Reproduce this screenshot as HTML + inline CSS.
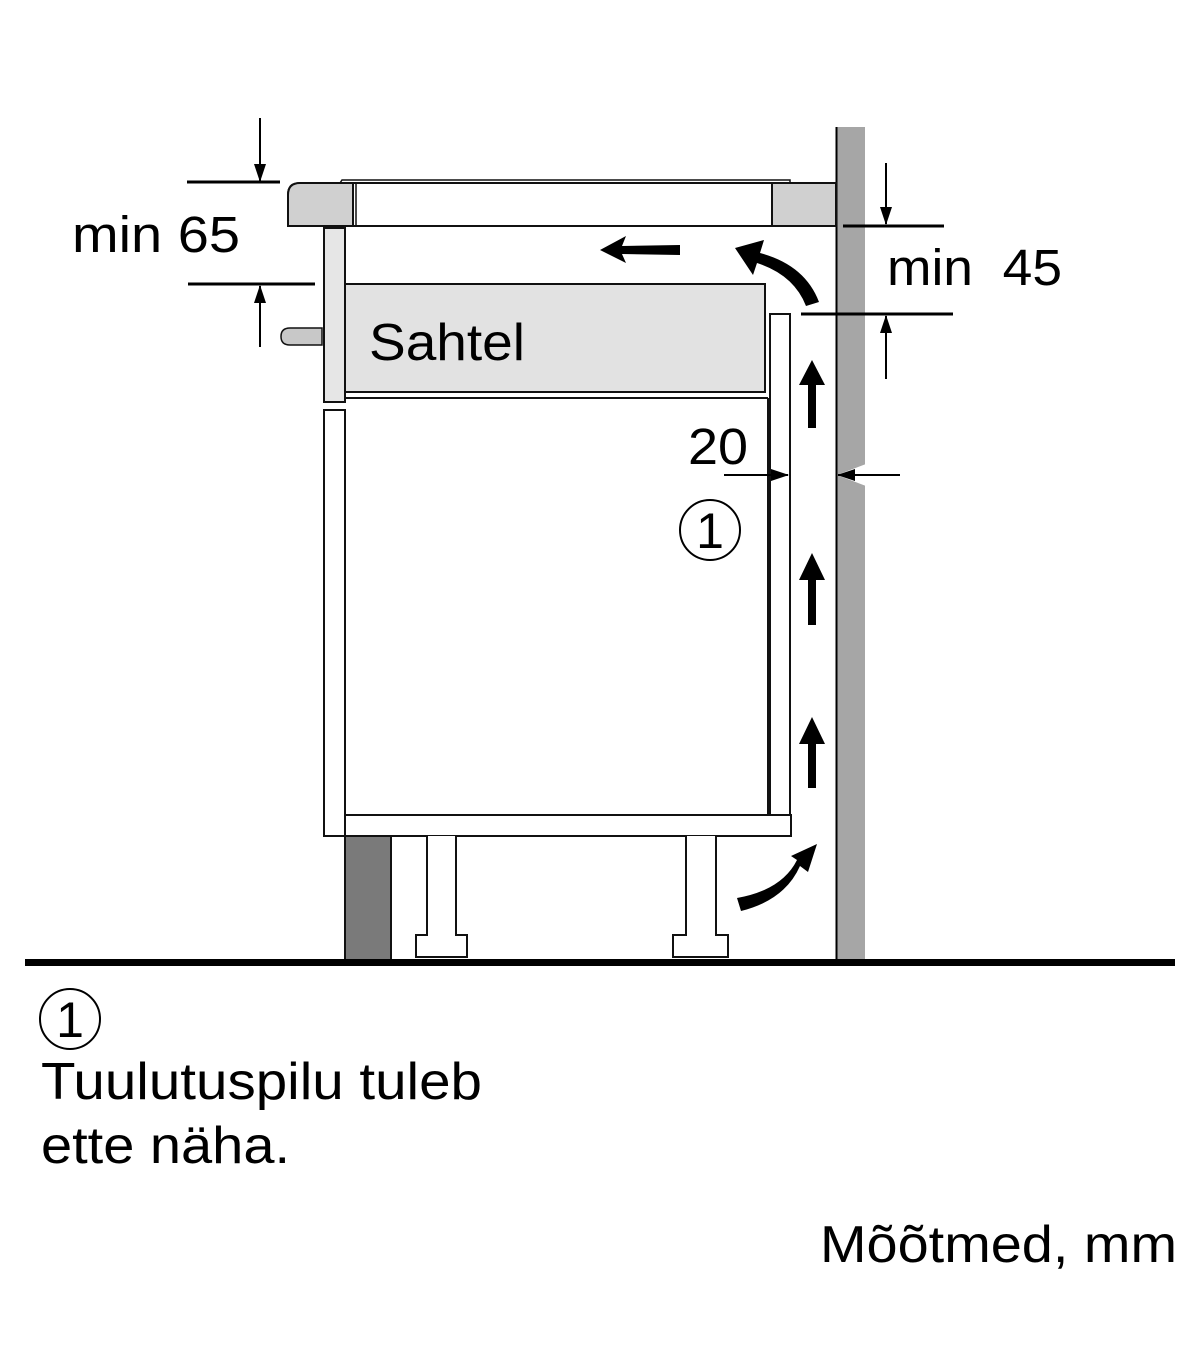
<!DOCTYPE html>
<html><head><meta charset="utf-8"><style>html,body{margin:0;padding:0;background:#fff}svg{display:block}</style></head>
<body>
<svg width="1200" height="1372" viewBox="0 0 1200 1372" xmlns="http://www.w3.org/2000/svg" font-family="Liberation Sans, Arial, sans-serif">
<defs>
<marker id="ah" markerWidth="18" markerHeight="14" refX="17" refY="6" orient="auto" markerUnits="userSpaceOnUse">
<path d="M0,0 L18,6 L0,12 z" fill="#000"/></marker>
</defs>
<!-- wall -->
<rect x="836" y="127" width="29" height="834" fill="#a6a6a6"/>
<line x1="836.5" y1="127" x2="836.5" y2="961" stroke="#000" stroke-width="2"/>
<!-- countertop -->
<path d="M300,183 L836,183 L836,226 L288,226 L288,195 Q288,183 300,183 z" fill="#fff" stroke="#111" stroke-width="2"/>
<path d="M300,183 L353,183 L353,226 L288,226 L288,195 Q288,183 300,183 z" fill="#d0d0d0" stroke="#111" stroke-width="2"/>
<rect x="772" y="183" width="64" height="43" fill="#d0d0d0" stroke="#111" stroke-width="2"/>
<line x1="356" y1="183" x2="356" y2="226" stroke="#111" stroke-width="1.5"/>
<path d="M340,183 L342,180 L790,180 L790,183" fill="none" stroke="#111" stroke-width="1.5"/>
<!-- cabinet front panel top -->
<rect x="324" y="228" width="21" height="174" fill="#e6e6e6" stroke="#111" stroke-width="2"/>
<rect x="324" y="410" width="21" height="426" fill="#fff" stroke="#111" stroke-width="2"/>
<!-- knob -->
<path d="M322,328 L290,328 Q281,328 281,336.5 Q281,345 290,345 L322,345 z" fill="#c8c8c8" stroke="#111" stroke-width="1.5"/>
<!-- drawer -->
<rect x="345" y="284" width="420" height="108" fill="#e2e2e2" stroke="#111" stroke-width="2"/>
<line x1="345" y1="398" x2="768" y2="398" stroke="#111" stroke-width="2"/>
<line x1="768" y1="398" x2="768" y2="815" stroke="#111" stroke-width="2"/>
<rect x="770" y="314" width="20" height="501" fill="#fff" stroke="#111" stroke-width="2"/>
<!-- bottom shelf -->
<rect x="345" y="815" width="446" height="21" fill="#fff" stroke="#111" stroke-width="2"/>
<!-- plinth -->
<rect x="345" y="836" width="46" height="124" fill="#7a7a7a" stroke="#111" stroke-width="2"/>
<!-- legs -->
<path d="M427,836 L427,935 L416,935 L416,957 L467,957 L467,935 L456,935 L456,836" fill="#fff" stroke="#111" stroke-width="2"/>
<path d="M686,836 L686,935 L673,935 L673,957 L728,957 L728,935 L716,935 L716,836" fill="#fff" stroke="#111" stroke-width="2"/>
<!-- floor -->
<rect x="25" y="959" width="1150" height="7" fill="#000"/>
<!-- air arrows -->
<g fill="#000">
<path d="M680,245 L622,246 L626,236 L600,250 L626,263 L622,254 L680,255 z"/>
<path d="M819,302 Q805,265 760,253 L764,240 L735,248 L753,275 L757,263 Q794,275 806,306 z"/>
<path d="M808,428 L816,428 L816,385 L825,385 L812,360 L799,385 L808,385 z"/>
<path d="M808,625 L816,625 L816,580 L825,580 L812,553 L799,580 L808,580 z"/>
<path d="M808,788 L816,788 L816,744 L825,744 L812,717 L799,744 L808,744 z"/>
<path d="M741,911 Q785,900 800,866 L808,872 L817,844 L791,856 L797,860 Q782,890 737,898 z"/>
</g>
<!-- dimensions left -->
<line x1="260" y1="118" x2="260" y2="181" stroke="#000" stroke-width="2" marker-end="url(#ah)"/>
<line x1="187" y1="182" x2="280" y2="182" stroke="#000" stroke-width="3"/>
<line x1="188" y1="284" x2="315" y2="284" stroke="#000" stroke-width="3"/>
<line x1="260" y1="347" x2="260" y2="286" stroke="#000" stroke-width="2" marker-end="url(#ah)"/>
<text x="72" y="252" font-size="51" textLength="168" lengthAdjust="spacingAndGlyphs">min 65</text>
<!-- dimensions right -->
<line x1="886" y1="163" x2="886" y2="224" stroke="#000" stroke-width="2" marker-end="url(#ah)"/>
<line x1="843" y1="226" x2="944" y2="226" stroke="#000" stroke-width="3"/>
<line x1="801" y1="314" x2="953" y2="314" stroke="#000" stroke-width="3"/>
<line x1="886" y1="379" x2="886" y2="316" stroke="#000" stroke-width="2" marker-end="url(#ah)"/>
<text x="887" y="285" font-size="51" xml:space="preserve" textLength="175" lengthAdjust="spacingAndGlyphs">min  45</text>
<!-- 20 -->
<text x="688" y="464" font-size="51" textLength="60" lengthAdjust="spacingAndGlyphs">20</text>
<line x1="724" y1="475" x2="788" y2="475" stroke="#000" stroke-width="2" marker-end="url(#ah)"/>
<path d="M837,475 L866,464 L866,486 z" fill="#fff"/>
<line x1="900" y1="475" x2="838" y2="475" stroke="#000" stroke-width="2" marker-end="url(#ah)"/>
<!-- circle 1 -->
<circle cx="710" cy="530" r="30" fill="none" stroke="#000" stroke-width="2"/>
<text x="710" y="548" font-size="50" text-anchor="middle">1</text>
<text x="369" y="360" font-size="52" textLength="156" lengthAdjust="spacingAndGlyphs">Sahtel</text>
<!-- legend -->
<circle cx="70" cy="1019" r="30" fill="none" stroke="#000" stroke-width="2"/>
<text x="70" y="1037" font-size="50" text-anchor="middle">1</text>
<text x="41" y="1099" font-size="52" textLength="441" lengthAdjust="spacingAndGlyphs">Tuulutuspilu tuleb</text>
<text x="41" y="1163" font-size="52" textLength="249" lengthAdjust="spacingAndGlyphs">ette näha.</text>
<text x="820" y="1262" font-size="52" textLength="357" lengthAdjust="spacingAndGlyphs">Mõõtmed, mm</text>
</svg>
</body></html>
